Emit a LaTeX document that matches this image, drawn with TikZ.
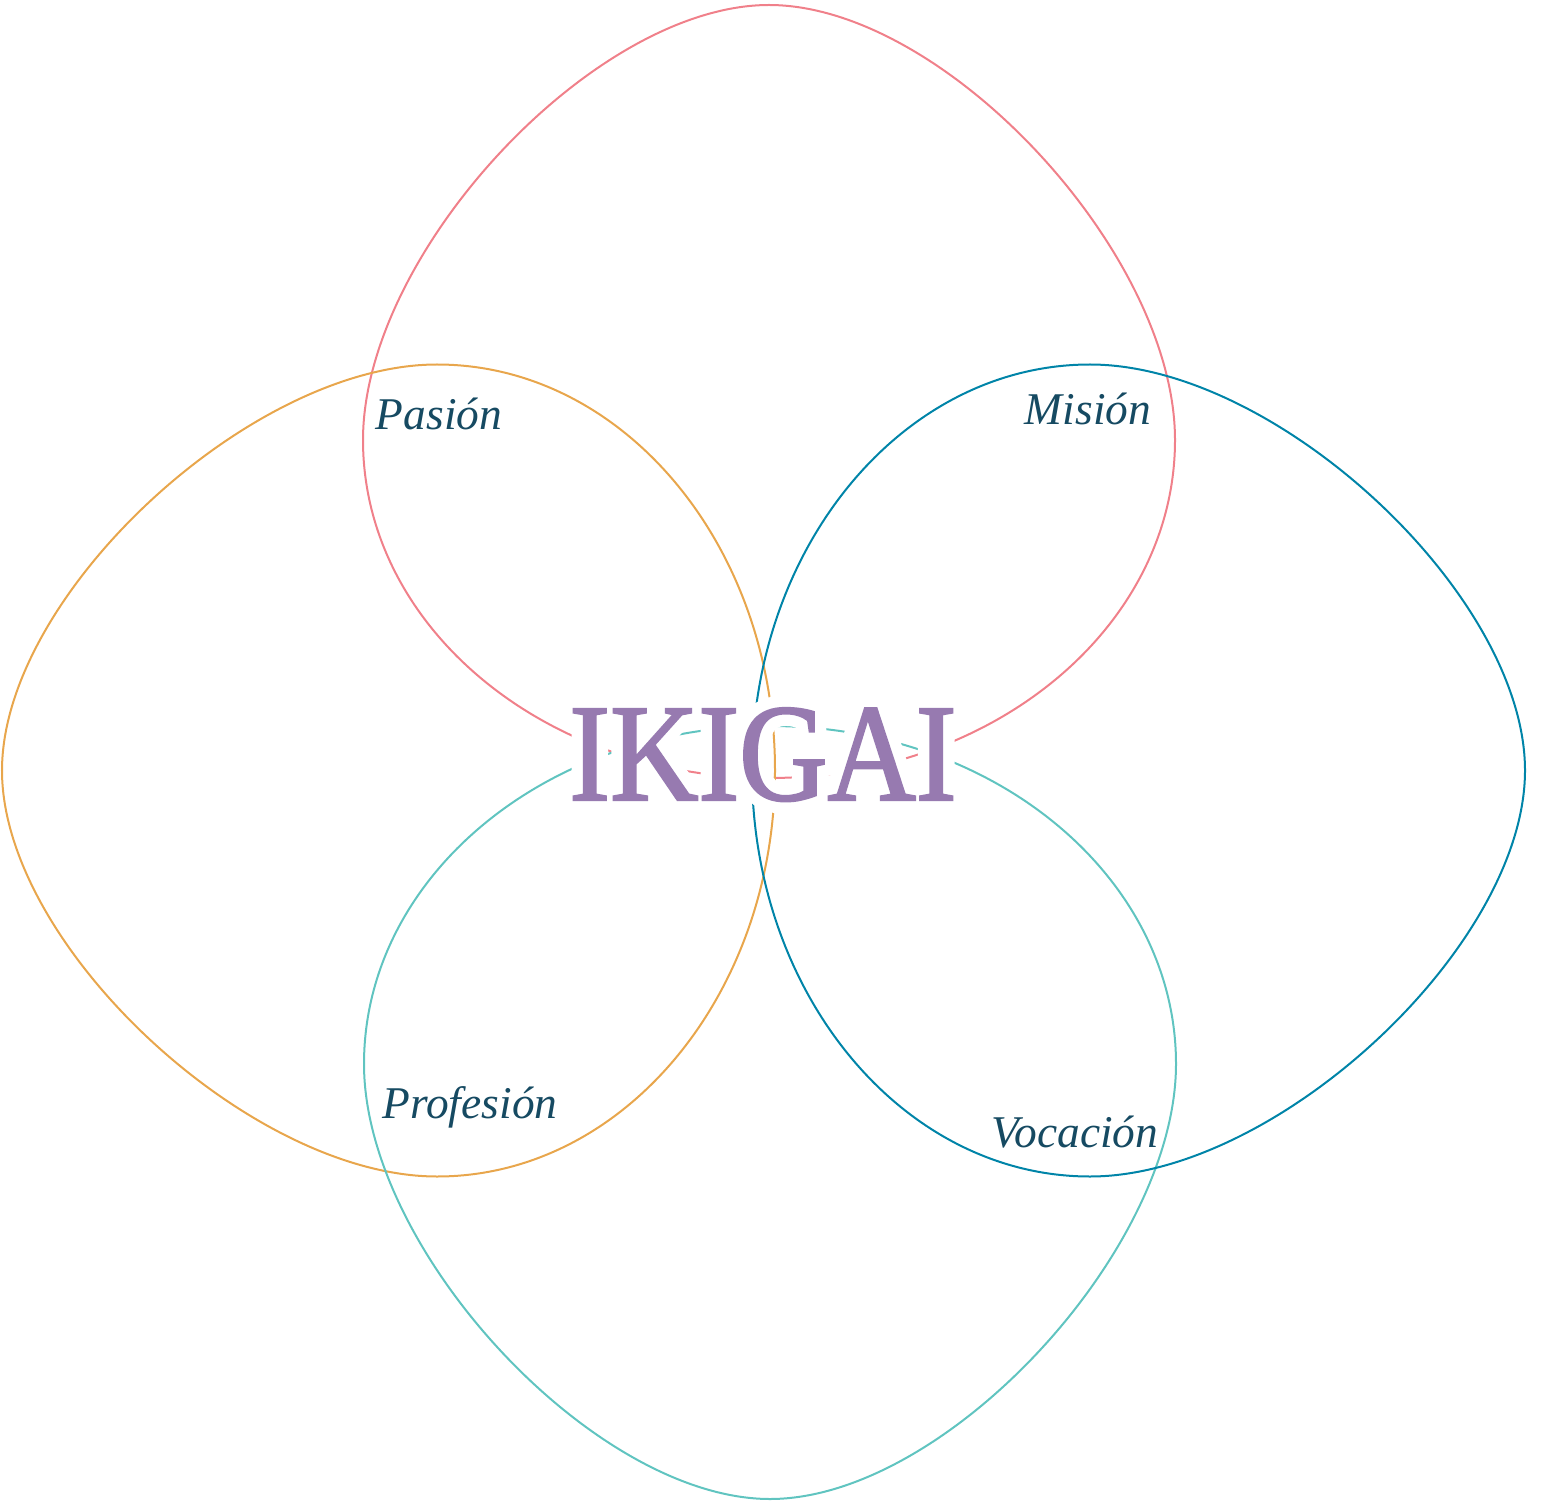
\documentclass[tikz,border=0pt]{standalone}
\usepackage{fontspec}
\setmainfont{Liberation Serif}
\newfontfamily\ikigaifont[FakeStretch=0.88, FakeBold=1.6]{Liberation Serif}
\newfontfamily\halofont[FakeStretch=0.88, FakeBold=18]{Liberation Serif}
\definecolor{pasionpink}{RGB}{240,128,138}
\definecolor{profamber}{RGB}{232,166,76}
\definecolor{misionblue}{RGB}{0,132,168}
\definecolor{vocateal}{RGB}{96,196,192}
\definecolor{labelink}{RGB}{22,74,98}
\definecolor{ikigaipurple}{RGB}{151,122,176}
\tikzset{
  petal/.pic={\draw[line width=1pt, pic actions] (0,-435) .. controls (-175,-435) and (-406,-187) .. (-406,0) .. controls (-406,187) and (-224,338) .. (0,338) .. controls (224,338) and (406,187) .. (406,0) .. controls (406,-187) and (175,-435) .. (0,-435) -- cycle;},
  lbl/.style={font=\fontsize{22.7}{27}\selectfont\itshape, text=labelink, anchor=base, inner sep=0pt},
  title/.style={font=\ikigaifont\fontsize{69.5}{80}\selectfont, anchor=base, inner sep=0pt},
  halo/.style={font=\halofont\fontsize{69.5}{80}\selectfont, anchor=base, inner sep=0pt, text=white}
}

\begin{document}
\begin{tikzpicture}[x=0.5pt, y=-0.5pt]
    \useasboundingbox (0,0) rectangle (1541,1502);
    % the four petals
    \pic[draw=pasionpink] at (769,440) {petal};
    \pic[draw=profamber, rotate=90] at (437,770.5) {petal};
    \pic[draw=vocateal, rotate=180] at (770,1064) {petal};
    \pic[draw=misionblue, rotate=-90] at (1090,770.5) {petal};
    % labels
    \node[lbl] (pasion) at (439,430) {Pasión};
    \node[lbl] (mision) at (1088,425) {Misión};
    \node[lbl] (profesion) at (470,1118) {Profesión};
    \node[lbl] (vocacion) at (1075,1147) {Vocación};
    % title with white halo
    \node[halo] (halo) at (763,800) {IKIGAI};
    \node[title, text=ikigaipurple] (ikigai) at (halo.base) {IKIGAI};
\end{tikzpicture}
\end{document}
